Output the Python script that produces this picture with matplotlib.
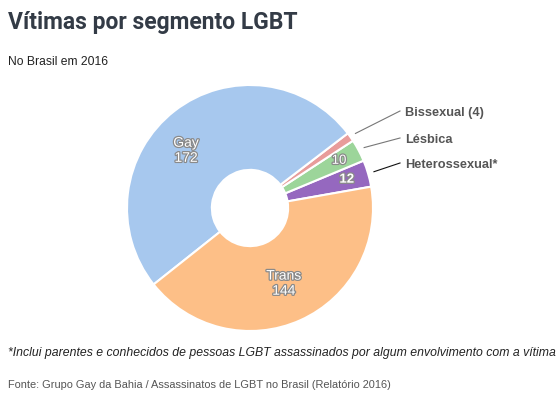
import numpy as np
import matplotlib
matplotlib.use("Agg")
import matplotlib.pyplot as plt
import matplotlib.patheffects as pe

plt.rcParams['font.family'] = ['Liberation Sans', 'DejaVu Sans']

# data
segments = ["Heterossexual*", "Lésbica", "Bissexual", "Gay", "Trans"]
victims = [12, 10, 4, 172, 144]
colors = ["#9568bf", "#9cd59a", "#e89c9b", "#a7c8ee", "#fdbf87"]

W, H = 556, 394
fig = plt.figure(figsize=(W / 100, H / 100), dpi=100)

# pie centre (250, 208) px, radius 123 px
cx, cy, r = 250, 208, 123
ax = fig.add_axes([(cx - r) / W, (H - cy - r) / H, 2 * r / W, 2 * r / H])

wedges, _ = ax.pie(victims, colors=colors, startangle=10, counterclock=True,
                   radius=1, wedgeprops=dict(width=0.69, edgecolor="white", linewidth=1.5))
ax.set_xlim(-1, 1)
ax.set_ylim(-1, 1)
ax.set_aspect("equal")
ax.axis("off")

shadow = [pe.withStroke(linewidth=1.8, foreground="#8a8a8a")]

def mid(w, rad, shift=0):
    a = np.deg2rad((w.theta1 + w.theta2) / 2 + shift)
    return rad * np.cos(a), rad * np.sin(a)

# inner labels
x, y = mid(wedges[3], 0.70, 10)
ax.text(x, y, "Gay\n" + str(victims[3]), ha="center", va="center", color="white",
        fontsize=10, linespacing=1.1, path_effects=shadow)
x, y = mid(wedges[4], 0.67)
ax.text(x, y, "Trans\n" + str(victims[4]), ha="center", va="center", color="white",
        fontsize=10, linespacing=1.1, path_effects=shadow)
x, y = mid(wedges[1], 0.82)
ax.text(x, y, str(victims[1]), ha="center", va="center", color="white",
        fontsize=9.5, path_effects=shadow)
x, y = mid(wedges[0], 0.82)
ax.text(x, y, str(victims[0]), ha="center", va="center", color="white",
        fontsize=9.5, fontweight="bold", path_effects=shadow)

# outer labels with leader lines
outer = [(2, "Bissexual (4)", 111, "#777777"),
         (1, "Lésbica", 138, "#777777"),
         (0, "Heterossexual*", 163, "#111111")]
for i, txt, py, lc in outer:
    sx, sy = mid(wedges[i], 1.05)
    tx = (400 - cx) / r
    ty = (cy - py) / r
    ax.plot([sx, tx], [sy, ty], color=lc, lw=0.8, clip_on=False)
    ax.text((405 - cx) / r, (cy - py - 2) / r, txt, ha="left", va="center", color="#555555",
            fontsize=9.2, fontweight="bold", clip_on=False)

fig.text(8 / W, 1 - 23 / H, "Vítimas por segmento LGBT", fontsize=16.5, fontweight="bold",
         family="Roboto", color="#333b46", va="center", ha="left")
fig.text(8 / W, 1 - 62 / H, "No Brasil em 2016", fontsize=8.7, color="#222222",
         va="center", ha="left")
fig.text(8 / W, 1 - 353 / H,
         "*Inclui parentes e conhecidos de pessoas LGBT assassinados por algum envolvimento com a vítima",
         fontsize=8.8, style="italic", color="#222222", va="center", ha="left")
fig.text(8 / W, 1 - 385 / H,
         "Fonte: Grupo Gay da Bahia / Assassinatos de LGBT no Brasil (Relatório 2016)",
         fontsize=7.9, color="#555555", va="center", ha="left")

fig.savefig("out.png", dpi=100, facecolor="white")
